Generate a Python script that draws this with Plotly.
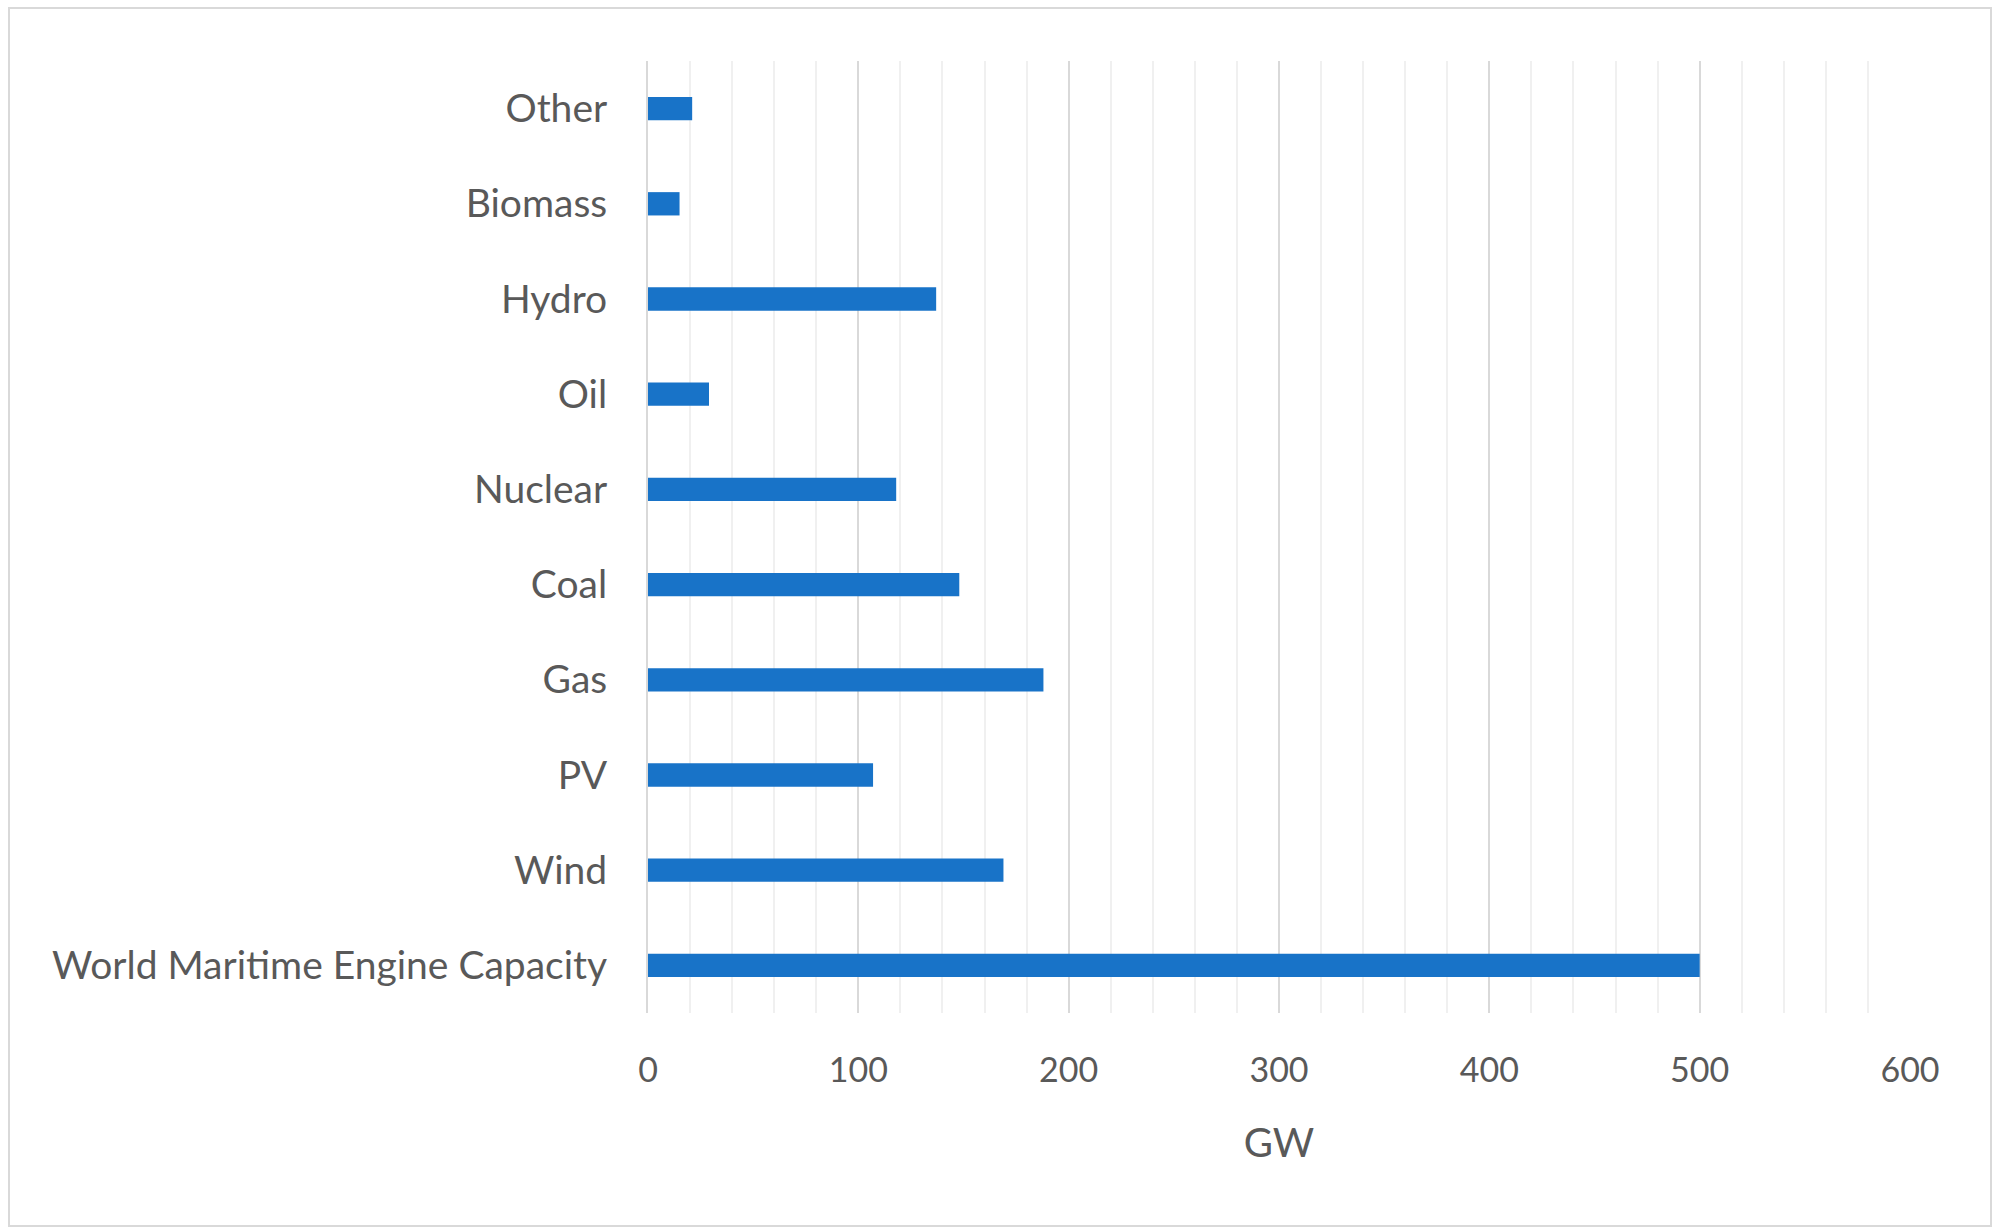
import plotly.graph_objects as go

# Installed capacity by source (GW), listed bottom to top
categories = ["World Maritime Engine Capacity", "Wind", "PV", "Gas", "Coal",
              "Nuclear", "Oil", "Hydro", "Biomass", "Other"]
capacity_gw = [500, 169, 107, 188, 148, 118, 29, 137, 15, 21]
x_ticks = [0, 100, 200, 300, 400, 500, 600]

W, H = 1998, 1228
left, right, top, bottom = 648, 88, 61, 215
plot_w = W - left - right
plot_h = H - top - bottom

fig = go.Figure(go.Bar(
    x=capacity_gw,
    y=categories,
    orientation="h",
    width=0.245,
    marker=dict(color="#1873C8", line=dict(width=0)),
))

font_family = "Lato, Carlito, 'Open Sans', sans-serif"

fig.update_layout(
    width=W, height=H,
    margin=dict(l=left, r=right, t=top, b=bottom, pad=0),
    paper_bgcolor="white",
    plot_bgcolor="white",
    showlegend=False,
    font=dict(family=font_family, color="#595959"),
    xaxis=dict(
        range=[0, 600],
        tickvals=x_ticks,
        ticktext=[str(v) for v in x_ticks],
        tickfont=dict(size=34, color="#595959"),
        ticks="",
        ticklabelstandoff=34,
        showgrid=True,
        gridcolor="#d9d9d9",
        gridwidth=2,
        zeroline=False,
        showline=False,
        minor=dict(dtick=20, showgrid=True, gridcolor="#f0f0f0", gridwidth=2),
        title=dict(text="GW", font=dict(size=40, color="#595959"), standoff=40),
        fixedrange=True,
    ),
    yaxis=dict(
        categoryorder="array",
        categoryarray=categories,
        range=[-0.5, len(categories) - 0.5],
        tickfont=dict(size=39, color="#595959"),
        ticks="",
        ticklabelstandoff=31,
        showgrid=False,
        zeroline=False,
        showline=True,
        linecolor="#d9d9d9",
        linewidth=2,
        fixedrange=True,
    ),
)

# Light frame around the whole chart area
bx0, bx1, by0, by1 = 9, 1991, 8, 1226
fig.add_shape(
    type="rect", xref="paper", yref="paper",
    x0=(bx0 - left) / plot_w, x1=(bx1 - left) / plot_w,
    y0=1 - (by1 - top) / plot_h, y1=1 - (by0 - top) / plot_h,
    line=dict(color="#d9d9d9", width=2),
    fillcolor="rgba(0,0,0,0)",
    layer="below",
)

fig.write_html("out.html")
